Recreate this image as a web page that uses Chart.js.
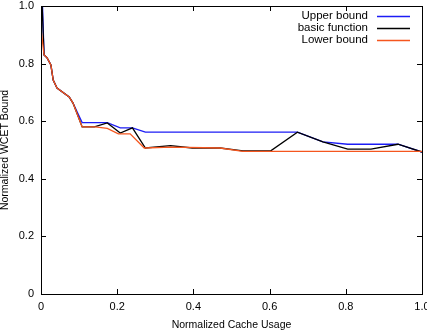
<!DOCTYPE html>
<html>
<head>
<meta charset="utf-8">
<script src="https://cdn.jsdelivr.net/npm/chart.js@4.4.0/dist/chart.umd.min.js"></script>
<style>
  body { margin: 0; background: #fff; }
  canvas { display: block; }
</style>
</head>
<body>
<canvas id="myChart" width="427" height="330"></canvas>
<script>
// datos
const xUpper = [0, 0.004, 0.008, 0.016, 0.026, 0.032, 0.042, 0.074, 0.084, 0.108, 0.174, 0.208, 0.24, 0.274, 0.673, 0.74, 0.805, 0.937, 1];
const yUpper = [1.0, 1.0, 0.83, 0.82, 0.795, 0.743, 0.715, 0.684, 0.663, 0.595, 0.595, 0.577, 0.577, 0.562, 0.562, 0.528, 0.52, 0.52, 0.493];

const xBasic = [0, 0.003, 0.008, 0.016, 0.026, 0.032, 0.042, 0.074, 0.084, 0.108, 0.14, 0.174, 0.208, 0.24, 0.274, 0.34, 0.397, 0.47, 0.53, 0.603, 0.673, 0.74, 0.805, 0.866, 0.937, 1];
const yBasic = [0.92, 1.0, 0.83, 0.82, 0.795, 0.743, 0.715, 0.684, 0.663, 0.58, 0.58, 0.594, 0.559, 0.577, 0.507, 0.515, 0.507, 0.507, 0.497, 0.497, 0.562, 0.528, 0.503, 0.503, 0.52, 0.493];

const xLower = [0, 0.008, 0.016, 0.026, 0.032, 0.042, 0.074, 0.084, 0.108, 0.142, 0.174, 0.203, 0.234, 0.271, 0.34, 0.47, 0.53, 1];
const yLower = [0.92, 0.83, 0.82, 0.795, 0.743, 0.715, 0.684, 0.663, 0.58, 0.58, 0.575, 0.556, 0.556, 0.507, 0.51, 0.507, 0.495, 0.495];

const tickValues = [0, 0.2, 0.4, 0.6, 0.8, 1];

const toPoints = (xs, ys) => xs.map((x, i) => ({ x: x, y: ys[i] }));

// ticks hacia dentro, caja y leyenda estilo gnuplot
const gnuplotStyle = {
    id: 'gnuplotStyle',
    afterDatasetsDraw(chart) {
        const ctx = chart.ctx;
        const area = chart.chartArea;
        const sx = chart.scales.x;
        const sy = chart.scales.y;
        ctx.save();
        ctx.strokeStyle = '#000';
        ctx.lineWidth = 1;
        ctx.beginPath();
        tickValues.forEach(v => {
            const px = Math.round(sx.getPixelForValue(v)) + 0.5;
            ctx.moveTo(px, area.bottom); ctx.lineTo(px, area.bottom - 5);
            ctx.moveTo(px, area.top); ctx.lineTo(px, area.top + 5);
            const py = Math.round(sy.getPixelForValue(v)) + 0.5;
            ctx.moveTo(area.left, py); ctx.lineTo(area.left + 5, py);
            ctx.moveTo(area.right, py); ctx.lineTo(area.right - 5, py);
        });
        ctx.stroke();
        ctx.strokeRect(Math.round(area.left) + 0.5, Math.round(area.top) + 0.5,
            Math.round(area.right - area.left), Math.round(area.bottom - area.top));

        // leyenda
        ctx.font = '11.5px "Liberation Sans", Arial, sans-serif';
        ctx.textAlign = 'right';
        ctx.textBaseline = 'middle';
        ctx.fillStyle = '#000';
        chart.data.datasets.forEach((ds, i) => {
            const y = 16 + i * 12;
            ctx.fillText(ds.label, 368, y);
            ctx.strokeStyle = ds.borderColor;
            ctx.lineWidth = 1.5;
            ctx.beginPath();
            ctx.moveTo(377, y + 0.5);
            ctx.lineTo(410, y + 0.5);
            ctx.stroke();
        });
        ctx.restore();
    }
};

const ctx = document.getElementById('myChart').getContext('2d');
new Chart(ctx, {
    type: 'scatter',
    data: {
        datasets: [
            { label: 'Upper bound', data: toPoints(xUpper, yUpper), borderColor: '#1c1cf5', order: 3 },
            { label: 'basic function', data: toPoints(xBasic, yBasic), borderColor: '#000000', order: 2 },
            { label: 'Lower bound', data: toPoints(xLower, yLower), borderColor: '#f5561e', order: 1 }
        ].map(d => Object.assign(d, { showLine: true, pointRadius: 0, borderWidth: 1.3, tension: 0, fill: false }))
    },
    options: {
        responsive: false,
        animation: false,
        devicePixelRatio: 1,
        layout: { padding: { left: 0, top: 6, right: 5, bottom: 0 } },
        plugins: { legend: { display: false }, tooltip: { enabled: false } },
        scales: {
            x: {
                type: 'linear', min: 0, max: 1,
                afterFit: s => { s.height = 36; s.paddingLeft = 0; s.paddingRight = 0; },
                grid: { display: false, drawTicks: false },
                border: { display: false },
                ticks: { stepSize: 0.2, padding: 6, color: '#000', font: { family: 'Liberation Sans', size: 11 } },
                title: { display: true, text: 'Normalized Cache Usage', color: '#000', padding: 0,
                    font: { family: 'Liberation Sans', size: 10.5, lineHeight: 1 } }
            },
            y: {
                type: 'linear', min: 0, max: 1,
                afterFit: s => { s.width = 41; s.paddingTop = 0; s.paddingBottom = 0; },
                grid: { display: false, drawTicks: false },
                border: { display: false },
                ticks: { stepSize: 0.2, padding: 7, color: '#000', font: { family: 'Liberation Sans', size: 11 } },
                title: { display: true, text: 'Normalized WCET Bound', color: '#000', padding: 0,
                    font: { family: 'Liberation Sans', size: 10.5, lineHeight: 1 } }
            }
        }
    },
    plugins: [gnuplotStyle]
});
</script>
</body>
</html>
